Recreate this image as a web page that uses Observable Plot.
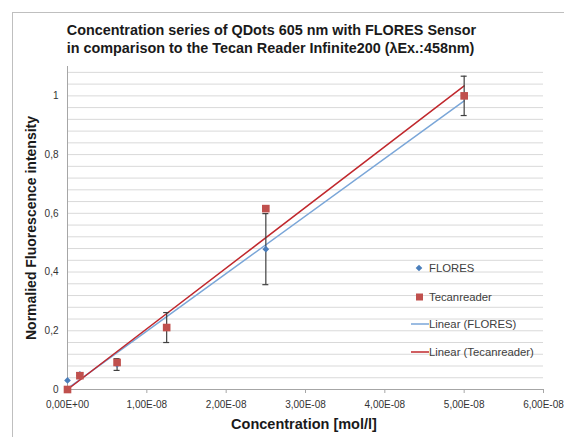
<!DOCTYPE html>
<html>
<head>
<meta charset="utf-8">
<script src="https://cdn.jsdelivr.net/npm/d3@7"></script>
<script src="https://cdn.jsdelivr.net/npm/@observablehq/plot@0.6"></script>
<style>
  html, body { margin: 0; padding: 0; background: #fff; }
  #chart svg { display: block; }
</style>
</head>
<body>
<div id="chart"></div>
<script>
// Data
const concentrations = [0, 1.5625e-9, 6.25e-9, 1.25e-8, 2.5e-8, 5e-8];
const flores = [0.031, 0.052, 0.085, 0.211, 0.478, 1.0];
const floresErr = [0, 0.005, 0.02, 0.051, 0.121, 0.067];
const tecan = [0, 0.047, 0.092, 0.211, 0.616, 1.0];
const fitX = [0, 5e-8];
const floresFit = [0.003, 0.983];
const tecanFit = [0, 1.034];

const xTicks = [0, 1e-8, 2e-8, 3e-8, 4e-8, 5e-8, 6e-8];
const yTicks = [0, 0.2, 0.4, 0.6, 0.8, 1];
const yGrid = [0.04, 0.08, 0.12, 0.16, 0.2, 0.24, 0.28, 0.32, 0.36, 0.4, 0.44, 0.48, 0.52, 0.56, 0.6, 0.64, 0.68, 0.72, 0.76, 0.8, 0.84, 0.88, 0.92, 0.96, 1, 1.04, 1.08];

const titleLines = [
  "Concentration series of QDots 605 nm with FLORES Sensor",
  "in comparison to the Tecan Reader Infinite200 (\u03BBEx.:458nm)"
];
const legendItems = ["FLORES", "Tecanreader", "Linear (FLORES)", "Linear (Tecanreader)"];

const points = concentrations.map((c, i) => ({
  c, f: flores[i], e: floresErr[i], t: tecan[i]
}));
const errPoints = points.filter(d => d.e > 0);
const fitRows = fitX.map((c, i) => ({c, f: floresFit[i], t: tecanFit[i]}));

const xFmt = d => {
  const [m, e] = d.toExponential(2).split("e");
  const n = +e;
  return m.replace(".", ",") + "E" + (n < 0 ? "-" : "+") + String(Math.abs(n)).padStart(2, "0");
};
const yFmt = d => String(d).replace(".", ",");

const blue = "#4a7ebb";
const blueLine = "#7aa6d8";
const red = "#c0504d";
const redLine = "#c0282d";
const errColor = "#404040";
const FONT = "Liberation Sans, Arial, sans-serif";

const W = 564, H = 437;
const chart = Plot.plot({
  width: W,
  height: H,
  marginLeft: 67,
  marginRight: 21,
  marginTop: 66,
  marginBottom: 48,
  style: {fontFamily: FONT, fontSize: "10px", color: "#333", background: "transparent"},
  x: {type: "linear", domain: [0, 6e-8]},
  y: {type: "linear", domain: [0, 1.1]},
  marks: [
    Plot.ruleY(yGrid, {stroke: "#d9d9d9", strokeWidth: 1}),
    Plot.ruleX([0], {y1: 0, y2: 1.1, stroke: "#a6a6a6"}),
    Plot.ruleY([0], {stroke: "#a6a6a6"}),
    Plot.axisX({ticks: xTicks, tickFormat: xFmt, tickSize: 4, tickPadding: 7, stroke: "#a6a6a6", fill: "#333", fontSize: 10, label: null}),
    Plot.axisY({ticks: yTicks, tickFormat: yFmt, tickSize: 0, tickPadding: 9, fill: "#333", fontSize: 10, label: null}),
    Plot.line(fitRows, {x: "c", y: "f", stroke: blueLine, strokeWidth: 1.5}),
    Plot.line(fitRows, {x: "c", y: "t", stroke: redLine, strokeWidth: 1.5}),
    Plot.ruleX(errPoints, {x: "c", y1: d => d.f - d.e, y2: d => d.f + d.e, stroke: errColor, strokeWidth: 1.2}),
    Plot.ruleY(errPoints, {y: d => d.f - d.e, x1: "c", x2: "c", insetLeft: -3, insetRight: -3, stroke: errColor, strokeWidth: 1.2}),
    Plot.ruleY(errPoints, {y: d => d.f + d.e, x1: "c", x2: "c", insetLeft: -3, insetRight: -3, stroke: errColor, strokeWidth: 1.2}),
    Plot.dot(points, {x: "c", y: "f", symbol: "diamond2", r: 3, fill: blue, stroke: "none"}),
    Plot.dot(points, {x: "c", y: "t", symbol: "square", r: 4.3, fill: red, stroke: "none"})
  ]
});

const svg = d3.select(chart);

// Outer chart border
svg.insert("rect", ":first-child")
  .attr("x", 12.5).attr("y", 12.5).attr("width", 600).attr("height", 600)
  .attr("fill", "#fff").attr("stroke", "#bfbfbf").attr("stroke-width", 1);

// Title
const title = svg.append("g").attr("font-family", FONT)
  .attr("font-weight", "bold").attr("font-size", 14.4).attr("fill", "#1a1a1a").attr("text-anchor", "middle");
title.append("text").attr("x", 271.5).attr("y", 35).text(titleLines[0]);
title.append("text").attr("x", 270.5).attr("y", 53).text(titleLines[1]);

// Axis labels
svg.append("text").attr("x", 304).attr("y", 429).attr("text-anchor", "middle")
  .attr("font-family", FONT).attr("font-weight", "bold")
  .attr("font-size", 14.5).attr("fill", "#1a1a1a").text("Concentration [mol/l]");
svg.append("text").attr("transform", "translate(36,228) rotate(-90)").attr("text-anchor", "middle")
  .attr("font-family", FONT).attr("font-weight", "bold")
  .attr("font-size", 14).attr("fill", "#1a1a1a").text("Normalied Fluorescence intensity");

// Legend
const lg = svg.append("g").attr("font-family", FONT).attr("text-anchor", "start")
  .attr("font-size", 11.3).attr("fill", "#404040");
const ly = [268, 297, 324, 352];
lg.append("path").attr("d", d3.symbol(d3.symbolDiamond2, Math.PI * 9)()).attr("transform", `translate(419,${ly[0]})`).attr("fill", blue);
lg.append("rect").attr("x", 416).attr("y", ly[1] - 3.5).attr("width", 7).attr("height", 7).attr("fill", red);
lg.append("line").attr("x1", 411).attr("x2", 429).attr("y1", ly[2]).attr("y2", ly[2]).attr("stroke", blueLine).attr("stroke-width", 1.5);
lg.append("line").attr("x1", 411).attr("x2", 429).attr("y1", ly[3]).attr("y2", ly[3]).attr("stroke", redLine).attr("stroke-width", 1.5);
legendItems.forEach((t, i) => {
  lg.append("text").attr("x", 429).attr("y", ly[i]).attr("dy", "0.35em").text(t);
});

document.getElementById("chart").appendChild(chart);
</script>
</body>
</html>
